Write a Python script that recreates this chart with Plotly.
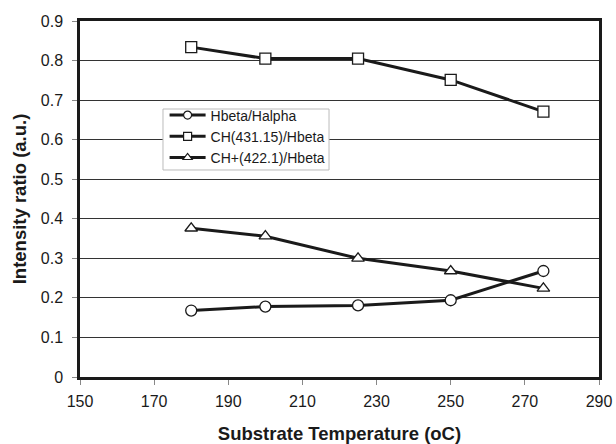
import plotly.graph_objects as go

temps = [180, 200, 225, 250, 275]
hbeta_halpha = [0.168, 0.178, 0.181, 0.194, 0.268]
ch_hbeta = [0.834, 0.805, 0.805, 0.751, 0.671]
chplus_hbeta = [0.376, 0.356, 0.300, 0.268, 0.224]

names = ["Hbeta/Halpha", "CH(431.15)/Hbeta", "CH+(422.1)/Hbeta"]
symbols = ["circle", "square", "triangle-up"]
series = [hbeta_halpha, ch_hbeta, chplus_hbeta]

INK = "#1a1a1a"
fig = go.Figure()
for name, sym, vals in zip(names, symbols, series):
    fig.add_trace(go.Scatter(
        x=temps, y=vals, name=name, mode="lines+markers", showlegend=False,
        line=dict(color=INK, width=3),
        marker=dict(symbol=sym, size=11, color="white",
                    line=dict(color=INK, width=1.3)),
    ))
# legend entries with smaller symbols, like the reference
for name, sym in zip(names, symbols):
    fig.add_trace(go.Scatter(
        x=[None], y=[None], name=name, mode="lines+markers", showlegend=True,
        line=dict(color=INK, width=3),
        marker=dict(symbol=sym, size=8, color="white",
                    line=dict(color=INK, width=1.2)),
    ))

# legend frame (drawn as a shape for a tighter box)
fig.add_shape(type="rect", xref="paper", yref="paper",
              x0=0.1599, x1=0.4798, y0=0.5815, y1=0.7528,
              line=dict(color="#bbbbbb", width=1), fillcolor="white", layer="above")

font = "Liberation Sans, Arial, sans-serif"
fig.update_layout(
    width=616, height=444,
    margin=dict(l=80, r=17, t=21, b=67),
    paper_bgcolor="white", plot_bgcolor="white",
    font=dict(family=font, size=16, color=INK),
    showlegend=True,
    legend=dict(x=0.163, y=0.7795, xanchor="left", yanchor="top",
                bgcolor="rgba(0,0,0,0)", borderwidth=0,
                font=dict(size=14), tracegroupgap=0, itemwidth=36),
    xaxis=dict(range=[150, 290], tickvals=list(range(150, 291, 20)),
               showgrid=False, zeroline=False, showline=True, linecolor=INK,
               linewidth=2.5, mirror=True, ticks="outside", ticklen=5,
               tickcolor="#888888", ticklabelstandoff=3, automargin=False,
               title=dict(text="<b>Substrate Temperature (oC)</b>",
                          font=dict(size=18.5), standoff=20)),
    yaxis=dict(range=[0, 0.9], tickvals=[0, 0.1, 0.2, 0.3, 0.4, 0.5, 0.6, 0.7, 0.8, 0.9],
               ticktext=["0", "0.1", "0.2", "0.3", "0.4", "0.5", "0.6", "0.7", "0.8", "0.9"],
               showgrid=True, gridcolor="#333333", gridwidth=1,
               zeroline=False, showline=True, linecolor=INK,
               linewidth=2.5, mirror=True, ticks="outside", ticklen=5,
               tickcolor="#888888", ticklabelstandoff=6, automargin=False,
               title=dict(text="<b>Intensity ratio (a.u.)</b>",
                          font=dict(size=18.5), standoff=10)),
)

fig.write_html("out.html")
